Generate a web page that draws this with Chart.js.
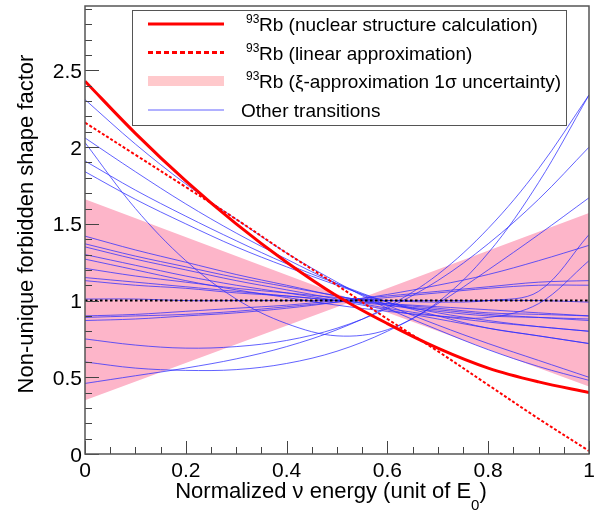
<!DOCTYPE html>
<html>
<head>
<meta charset="utf-8">
<script src="https://cdn.jsdelivr.net/npm/chart.js@4.4.1/dist/chart.umd.min.js"></script>
<style>
    html, body { margin: 0; padding: 0; background: #fff; }
</style>
</head>
<body>
<canvas id="c" width="615" height="513"></canvas>
<script>
// x positions (normalized neutrino energy) shared by all curves
const xs = [0, 0.1, 0.2, 0.3, 0.4, 0.5, 0.6, 0.7, 0.8, 0.9, 1];

// 93Rb shape factors
const rbCalc = [2.43, 2.09, 1.78, 1.50, 1.25, 1.03, 0.85, 0.69, 0.56, 0.47, 0.40];
const rbLinear = [2.16, 1.95, 1.74, 1.53, 1.31, 1.10, 0.88, 0.67, 0.45, 0.23, 0.02];

// xi-approximation 1 sigma band
const bandX = [0, 0.535, 1];
const bandUpper = [1.66, 1.0, 1.57];
const bandLower = [0.35, 1.0, 0.44];

// reference line
const refX = [0, 1];
const refY = [1, 1];

// other transitions (one list per curve)
const others = [
    [2.31, 2.02, 1.76, 1.53, 1.31, 1.12, 0.95, 0.81, 0.68, 0.57, 0.48],
    [2.03, 1.60, 1.26, 1.01, 0.85, 0.77, 0.81, 0.99, 1.31, 1.77, 2.34],
    [2.06, 1.84, 1.63, 1.44, 1.27, 1.11, 0.97, 0.84, 0.72, 0.61, 0.50],
    [1.91, 1.72, 1.55, 1.39, 1.24, 1.11, 0.99, 0.90, 0.82, 0.77, 0.72],
    [1.84, 1.66, 1.50, 1.35, 1.22, 1.10, 0.99, 0.92, 0.87, 0.83, 0.80],
    [1.42, 1.33, 1.25, 1.17, 1.10, 1.03, 0.98, 0.95, 0.92, 0.91, 0.90],
    [1.37, 1.29, 1.22, 1.15, 1.09, 1.03, 0.97, 0.93, 0.90, 0.89, 0.88],
    [1.35, 1.27, 1.20, 1.13, 1.07, 1.01, 0.95, 0.90, 0.86, 0.83, 0.80],
    [1.30, 1.23, 1.16, 1.10, 1.05, 1.00, 0.94, 0.88, 0.82, 0.77, 0.72],
    [1.27, 1.20, 1.13, 1.07, 1.02, 0.97, 0.93, 0.90, 0.89, 0.98, 1.26],
    [1.21, 1.16, 1.12, 1.08, 1.05, 1.02, 1.00, 0.99, 1.00, 1.06, 1.43],
    [1.15, 1.12, 1.09, 1.06, 1.03, 1.00, 0.98, 0.96, 0.94, 0.92, 0.90],
    [1.13, 1.10, 1.08, 1.05, 1.03, 1.00, 0.97, 0.94, 0.91, 0.89, 0.87],
    [1.01, 1.01, 1.00, 1.00, 1.00, 1.00, 1.00, 1.00, 1.00, 1.00, 0.99],
    [0.90, 0.91, 0.93, 0.95, 0.97, 1.00, 1.03, 1.06, 1.09, 1.12, 1.13],
    [0.89, 0.90, 0.91, 0.93, 0.96, 0.99, 1.02, 1.05, 1.08, 1.10, 1.10],
    [0.87, 0.88, 0.90, 0.92, 0.95, 0.99, 1.04, 1.10, 1.17, 1.26, 1.36],
    [0.75, 0.71, 0.69, 0.70, 0.74, 0.82, 0.95, 1.13, 1.37, 1.66, 2.00],
    [0.60, 0.56, 0.545, 0.55, 0.59, 0.67, 0.80, 0.98, 1.20, 1.43, 1.67],
    [0.46, 0.51, 0.56, 0.62, 0.70, 0.81, 0.96, 1.17, 1.47, 1.86, 2.34]
];

// axes
const xTicks = [0, 0.2, 0.4, 0.6, 0.8, 1];
const yTicks = [0, 0.5, 1, 1.5, 2, 2.5];
const yMax = 2.92;

const FONT = '"Liberation Sans", Arial, Helvetica, sans-serif';
const RED = '#ff0000';
const BLUE = 'rgba(45, 45, 255, 0.75)';
const PINK = '#fdb5c9';

const pts = (xv, yv) => xv.map((x, i) => ({ x, y: yv[i] }));

const datasets = [
    {
        data: pts(bandX, bandUpper), borderWidth: 0, pointRadius: 0,
        backgroundColor: PINK, fill: '+1', order: 10, tension: 0
    },
    {
        data: pts(bandX, bandLower), borderWidth: 0, pointRadius: 0,
        fill: false, order: 10, tension: 0
    }
];

others.forEach(vals => {
    datasets.push({
        data: pts(xs, vals), borderColor: BLUE, borderWidth: 1, pointRadius: 0,
        fill: false, order: 5, tension: 0.35
    });
});

datasets.push({
    data: pts(refX, refY), borderColor: '#000', borderWidth: 2, borderDash: [2.5, 2.5],
    pointRadius: 0, fill: false, order: 3
});
datasets.push({
    data: pts(xs, rbLinear), borderColor: RED, borderWidth: 2, borderDash: [3, 2],
    pointRadius: 0, fill: false, order: 2, tension: 0.35
});
datasets.push({
    data: pts(xs, rbCalc), borderColor: RED, borderWidth: 3,
    pointRadius: 0, fill: false, order: 1, tension: 0.35
});

const legendItems = [
    { kind: 'solid', text: 'Rb (nuclear structure calculation)' },
    { kind: 'dotted', text: 'Rb (linear approximation)' },
    { kind: 'band', text: 'Rb (ξ-approximation 1σ uncertainty)' },
    { kind: 'blue', text: 'Other transitions' }
];

const decor = {
    id: 'decor',
    afterDatasetsDraw(chart) {
        const { ctx, chartArea: a, scales: { x, y } } = chart;
        ctx.save();
        ctx.strokeStyle = '#444';
        ctx.lineWidth = 1;
        ctx.beginPath();
        for (let i = 0; i * 0.1 <= yMax + 1e-9; i++) {
            const py = Math.round(y.getPixelForValue(i * 0.1)) + 0.5;
            const len = i % 5 === 0 ? 14 : 7;
            ctx.moveTo(a.left, py);
            ctx.lineTo(a.left + len, py);
        }
        for (let i = 0; i <= 20; i++) {
            const px = Math.round(x.getPixelForValue(i * 0.05)) + 0.5;
            const len = i % 4 === 0 ? 13 : 7;
            ctx.moveTo(px, a.bottom);
            ctx.lineTo(px, a.bottom - len);
        }
        ctx.stroke();
        ctx.strokeStyle = '#555';
        ctx.lineWidth = 1.5;
        ctx.strokeRect(a.left, a.top, a.right - a.left, a.bottom - a.top);
        ctx.restore();
    },
    afterDraw(chart) {
        const { ctx, chartArea: a, scales: { x, y } } = chart;
        ctx.save();
        ctx.fillStyle = '#000';
        ctx.textBaseline = 'alphabetic';

        // tick labels
        ctx.font = '21px ' + FONT;
        ctx.textAlign = 'center';
        xTicks.forEach(v => ctx.fillText(String(v), x.getPixelForValue(v), 477));
        ctx.textAlign = 'right';
        yTicks.forEach(v => ctx.fillText(String(v), a.left - 3, y.getPixelForValue(v) + 7.5));

        // x title with subscript
        const main = 'Normalized ν energy (unit of E';
        ctx.font = '22px ' + FONT;
        const w1 = ctx.measureText(main).width;
        const w3 = ctx.measureText(')').width;
        ctx.font = '15px ' + FONT;
        const w2 = ctx.measureText('0').width;
        const tx = 331 - (w1 + w2 + w3) / 2;
        ctx.textAlign = 'left';
        ctx.font = '22px ' + FONT;
        ctx.fillText(main, tx, 498);
        ctx.font = '15px ' + FONT;
        ctx.fillText('0', tx + w1, 510);
        ctx.font = '22px ' + FONT;
        ctx.fillText(')', tx + w1 + w2, 498);

        // y title
        ctx.save();
        ctx.translate(33, 224);
        ctx.rotate(-Math.PI / 2);
        ctx.textAlign = 'center';
        ctx.fillText('Non-unique forbidden shape factor', 0, 0);
        ctx.restore();

        // legend
        const L = 132, T = 10, R = 566, B = 125;
        ctx.fillStyle = '#fff';
        ctx.fillRect(L, T, R - L, B - T);
        ctx.strokeStyle = '#555';
        ctx.lineWidth = 1;
        ctx.strokeRect(L + 0.5, T + 0.5, R - L, B - T);
        const rows = [24, 52.5, 81, 110];
        legendItems.forEach((it, i) => {
            const ry = rows[i];
            ctx.save();
            if (it.kind === 'band') {
                ctx.fillStyle = '#ffc9cc';
                ctx.fillRect(148, ry - 5, 76, 10);
            } else {
                ctx.beginPath();
                ctx.moveTo(148, ry);
                ctx.lineTo(224, ry);
                if (it.kind === 'solid') { ctx.strokeStyle = RED; ctx.lineWidth = 3; }
                if (it.kind === 'dotted') { ctx.strokeStyle = RED; ctx.lineWidth = 3; ctx.setLineDash([5, 3]); }
                if (it.kind === 'blue') { ctx.strokeStyle = BLUE; ctx.lineWidth = 1; }
                ctx.stroke();
            }
            ctx.restore();
            ctx.fillStyle = '#000';
            ctx.textAlign = 'left';
            if (it.kind === 'blue') {
                ctx.font = '19px ' + FONT;
                ctx.fillText(it.text, 241, ry + 7);
            } else {
                ctx.font = '12px ' + FONT;
                ctx.fillText('93', 246, ry - 1);
                ctx.font = '19px ' + FONT;
                ctx.fillText(it.text, 259, ry + 7);
            }
        });
        ctx.restore();
    }
};

new Chart(document.getElementById('c'), {
    type: 'line',
    data: { datasets },
    options: {
        responsive: false,
        devicePixelRatio: 1,
        animation: false,
        events: [],
        layout: { padding: { left: 0, right: 26, top: 6, bottom: 0 } },
        plugins: { legend: { display: false }, tooltip: { enabled: false } },
        scales: {
            x: {
                type: 'linear', min: 0, max: 1,
                grid: { display: false }, border: { display: false },
                afterBuildTicks: s => { s.ticks = xTicks.map(v => ({ value: v })); },
                afterFit: s => { s.height = 59; },
                ticks: { display: false }
            },
            y: {
                type: 'linear', min: 0, max: yMax,
                grid: { display: false }, border: { display: false },
                afterBuildTicks: s => { s.ticks = yTicks.map(v => ({ value: v })); },
                afterFit: s => { s.width = 85; },
                ticks: { display: false }
            }
        }
    },
    plugins: [decor]
});
</script>
</body>
</html>
